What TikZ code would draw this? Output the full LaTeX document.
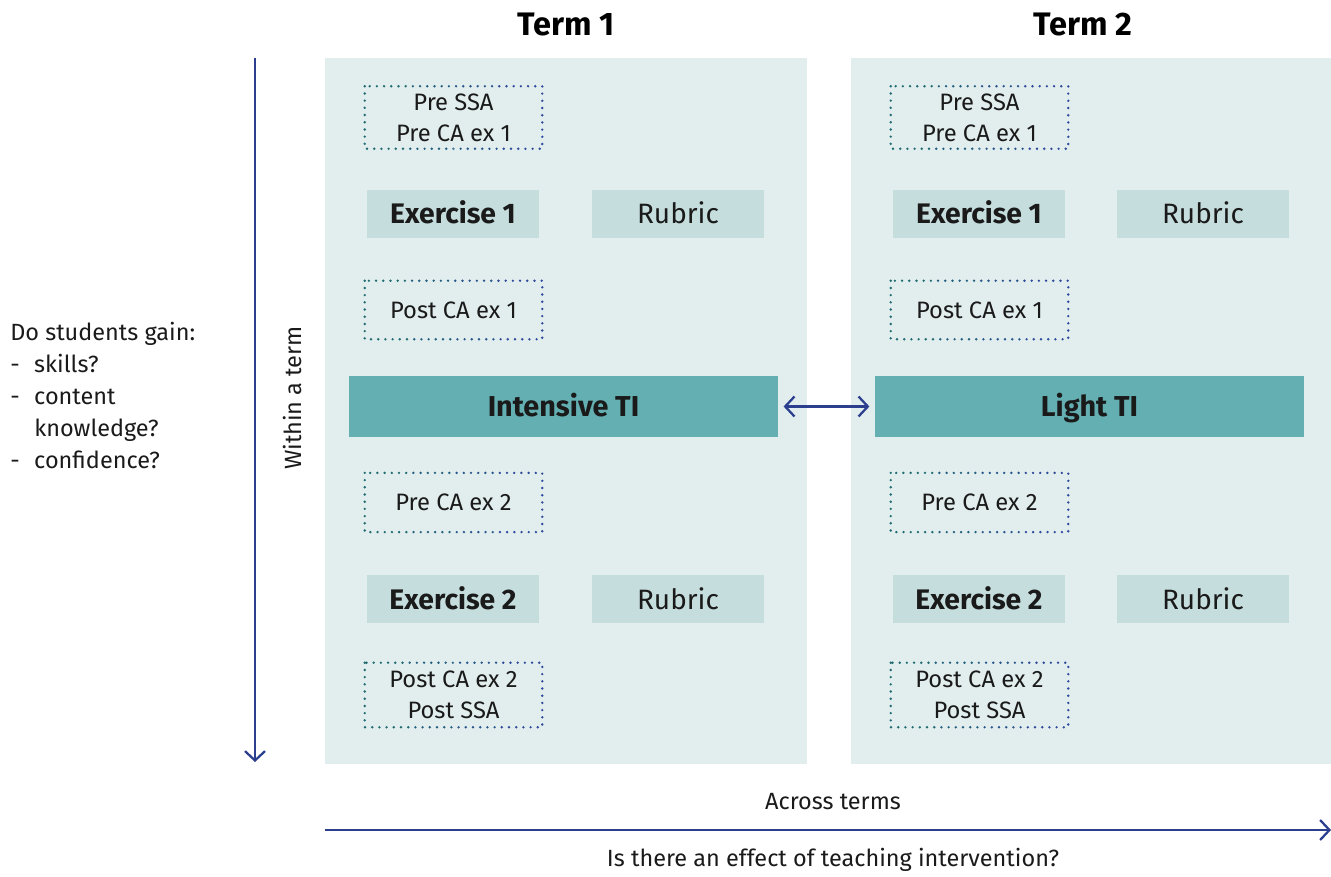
\documentclass[tikz,border=0pt]{standalone}
\usepackage{fontspec}
\setmainfont{Fira Sans}
\usetikzlibrary{arrows.meta,calc}
\definecolor{panel}{HTML}{E2EEEE}
\definecolor{boxfill}{HTML}{C5DEDD}
\definecolor{tifill}{HTML}{63AFB2}
\definecolor{arrowblue}{HTML}{2B3F8E}
\definecolor{dotA}{HTML}{1E6B70}
\definecolor{dotD}{HTML}{2E4A9B}
\colorlet{dotB}{dotA!67!dotD}
\colorlet{dotC}{dotA!33!dotD}
\definecolor{txt}{HTML}{1A1A1A}
\tikzset{
  dotbox/.style={inner sep=0pt, minimum width=132.75pt, minimum height=#1, align=center,
     font=\fontsize{17.8}{23.25}\selectfont, text=txt},
  dotline/.style={line width=2pt, dash pattern=on 0pt off 5.4pt, line cap=round},
  lightbox/.style={fill=boxfill, inner sep=0pt, minimum width=129pt, minimum height=36pt,
     text=txt, text height=15pt, text depth=0pt},
  exbox/.style={lightbox, font=\bfseries\fontsize{21.2}{24}\selectfont},
  rubbox/.style={lightbox, font=\fontsize{21}{24}\selectfont},
  tibox/.style={fill=tifill, inner sep=0pt, minimum width=321.75pt, minimum height=45.75pt,
     text=txt, text height=15pt, text depth=0pt, font=\bfseries\fontsize{21.6}{24}\selectfont},
  termlabel/.style={text=black, font=\bfseries\fontsize{24.4}{28}\selectfont},
  plain/.style={text=txt, font=\fontsize{17.6}{24}\selectfont},
  conn/.style={draw=arrowblue, line width=1.7pt, -{Straight Barb[length=7pt,width=15pt,line width=1.7pt]}},
  dconn/.style={draw=arrowblue, line width=1.7pt, {Straight Barb[length=7pt,width=15pt,line width=1.7pt]}-{Straight Barb[length=7pt,width=15pt,line width=1.7pt]}},
}
\newcommand\gradborder[1]{%
  \foreach \fa/\fb/\cc in {-0.2/0.25/dotA,0.25/0.5/dotB,0.5/0.75/dotC,0.75/1.2/dotD}{%
    \begin{scope}
      \clip ($(#1.north west)!\fa!(#1.north east)+(0,-10)$) rectangle ($(#1.south west)!\fb!(#1.south east)+(0,10)$);
      \draw[dotline, draw=\cc] (#1.north west) rectangle (#1.south east);
    \end{scope}}%
}
\begin{document}
\begin{tikzpicture}[x=0.75pt,y=-0.75pt]
\useasboundingbox (0,0) rectangle (1331,877);
% panels
\fill[panel] (325,58) rectangle (807,764);
\fill[panel] (851,58) rectangle (1331,764);
% term labels
\node[termlabel] (t1) at (566,25) {Term 1};
\node[termlabel] (t2) at (1083,25) {Term 2};
% left column
\node[dotbox=46.5pt] (a1) at (453.5,117.5) {Pre SSA\\Pre CA ex 1};
\node[exbox] (e1) at (453,214) {Exercise 1};
\node[rubbox] (r1) at (678,214) {Rubric};
\node[dotbox=43.5pt] (b1) at (453.5,310) {Post CA ex 1};
\node[tibox] (ti1) at (563.5,406.5) {Intensive TI};
\node[dotbox=44pt] (c1) at (453.5,502.5) {Pre CA ex 2};
\node[exbox] (f1) at (453,599) {Exercise 2};
\node[rubbox] (s1) at (678,599) {Rubric};
\node[dotbox=48pt] (d1) at (453.5,695) {Post CA ex 2\\Post SSA};
% right column
\node[dotbox=46.5pt] (a2) at (979.5,117.5) {Pre SSA\\Pre CA ex 1};
\node[exbox] (e2) at (979,214) {Exercise 1};
\node[rubbox] (r2) at (1203,214) {Rubric};
\node[dotbox=43.5pt] (b2) at (979.5,310) {Post CA ex 1};
\node[tibox] (ti2) at (1089.5,406.5) {Light TI};
\node[dotbox=44pt] (c2) at (979.5,502.5) {Pre CA ex 2};
\node[exbox] (f2) at (979,599) {Exercise 2};
\node[rubbox] (s2) at (1203,599) {Rubric};
\node[dotbox=48pt] (d2) at (979.5,695) {Post CA ex 2\\Post SSA};
\foreach \n in {a1,b1,c1,d1,a2,b2,c2,d2}{\gradborder{\n}}
% double arrow between TI boxes
\draw[dconn] ([xshift=4pt]ti1.east) -- ([xshift=-4pt]ti2.west);
% vertical axis
\coordinate (vtop) at (255,58);
\coordinate (vbot) at (255,762);
\draw[conn] (vtop) -- (vbot);
\node[plain, rotate=90] (within) at (292,398) {Within a term};
% horizontal axis
\coordinate (hl) at (325,830);
\coordinate (hr) at (1331,830);
\draw[conn] (hl) -- (hr);
\node[plain] (across) at (833,802) {Across terms};
\node[plain] (effect) at (833,860) {Is there an effect of teaching intervention?};
% left question
\node[plain, anchor=north west, align=left, inner sep=0pt] (q) at (10,322)
  {Do students gain:\\
   \makebox[18pt][l]{-}skills?\\
   \makebox[18pt][l]{-}content\\
   \makebox[18pt][l]{}knowledge?\\
   \makebox[18pt][l]{-}confidence?};
\end{tikzpicture}
\end{document}
